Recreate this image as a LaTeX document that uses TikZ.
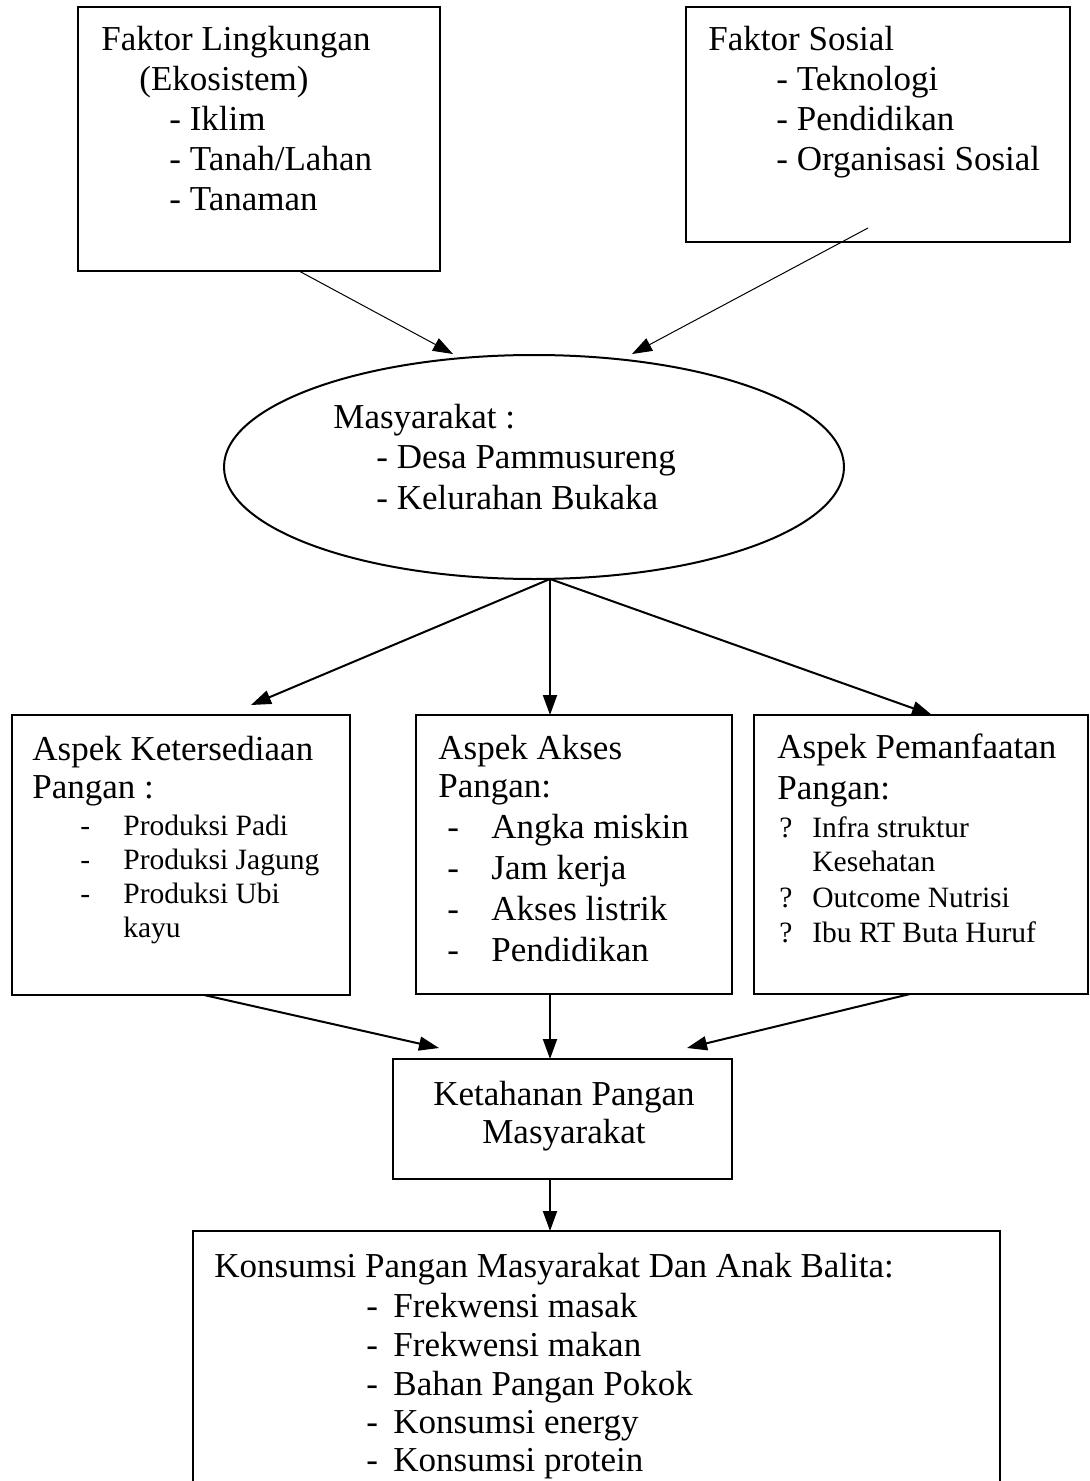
\documentclass[tikz,border=0pt]{standalone}
\usepackage{fontspec}
\setmainfont{Liberation Serif}
\usetikzlibrary{arrows.meta,shapes.geometric,fit}
\begin{document}
\begin{tikzpicture}[x=0.5pt,y=-0.5pt,
  box/.style={draw, line width=1.25pt, inner sep=0pt, outer sep=0pt},
  txt/.style={anchor=base west, inner sep=0pt, font=\fontsize{17.5}{21}\selectfont},
  sm/.style={anchor=base west, inner sep=0pt, font=\fontsize{14.75}{18}\selectfont},
  ctr/.style={anchor=base, inner sep=0pt, font=\fontsize{17.5}{21}\selectfont},
  arr/.style={-{Triangle[length=10pt,width=7pt]}, line width=1pt},
  thinarr/.style={-{Triangle[length=10pt,width=7pt]}, line width=0.5pt}]
\useasboundingbox (0,0) rectangle (1089,1481);

% ---- boxes ----
\node[box, fit={(78,7) (440,271)}] (b1) {};
\node[box, fit={(686,7) (1070,242)}] (b2) {};
\node[draw, ellipse, line width=1pt, minimum width=310pt, minimum height=112pt, inner sep=0pt] (el) at (534,467) {};
\node[box, fit={(12,715) (350,995)}] (b3) {};
\node[box, fit={(416,715) (732,994)}] (b4) {};
\node[box, fit={(754,715) (1088,994)}] (b5) {};
\node[box, fit={(393,1059) (732,1179)}] (b6) {};
\node[box, fit={(193,1231) (1000,1540)}] (b7) {};

% ---- box 1 text ----
\node[txt] (t1a) at (101,51) {Faktor Lingkungan};
\node[txt] (t1b) at (139,91) {(Ekosistem)};
\node[txt] (t1c) at (169,131) {- Iklim};
\node[txt] (t1d) at (169,171) {- Tanah/Lahan};
\node[txt] (t1e) at (169,211) {- Tanaman};

% ---- box 2 text ----
\node[txt] (t2a) at (708,51) {Faktor Sosial};
\node[txt] (t2b) at (776,91) {- Teknologi};
\node[txt] (t2c) at (776,131) {- Pendidikan};
\node[txt] (t2d) at (776,171) {- Organisasi Sosial};

% ---- ellipse text ----
\node[txt] (tea) at (333,428) {Masyarakat :};
\node[txt] (teb) at (376,468) {- Desa Pammusureng};
\node[txt] (tec) at (376,509) {- Kelurahan Bukaka};

% ---- box 3 text ----
\node[txt] (t3a) at (32,760) {Aspek Ketersediaan};
\node[txt] (t3b) at (32,798) {Pangan :};
\node[sm] (t3c1) at (80,835) {-};
\node[sm] (t3c) at (123,835) {Produksi Padi};
\node[sm] (t3d1) at (80,869) {-};
\node[sm] (t3d) at (123,869) {Produksi Jagung};
\node[sm] (t3e1) at (80,903) {-};
\node[sm] (t3e) at (123,903) {Produksi Ubi};
\node[sm] (t3f) at (123,937) {kayu};

% ---- box 4 text ----
\node[txt] (t4a) at (438,759) {Aspek Akses};
\node[txt] (t4b) at (438,797) {Pangan:};
\node[txt] (t4c1) at (447,838) {-};
\node[txt] (t4c) at (491,838) {Angka miskin};
\node[txt] (t4d1) at (447,879) {-};
\node[txt] (t4d) at (491,879) {Jam kerja};
\node[txt] (t4e1) at (447,920) {-};
\node[txt] (t4e) at (491,920) {Akses listrik};
\node[txt] (t4f1) at (447,961) {-};
\node[txt] (t4f) at (491,961) {Pendidikan};

% ---- box 5 text ----
\node[txt] (t5a) at (777,758) {Aspek Pemanfaatan};
\node[txt] (t5b) at (777,799) {Pangan:};
\node[sm] (t5c1) at (779,837) {?};
\node[sm] (t5c) at (812,837) {Infra struktur};
\node[sm] (t5d) at (812,871) {Kesehatan};
\node[sm] (t5e1) at (779,907) {?};
\node[sm] (t5e) at (812,907) {Outcome Nutrisi};
\node[sm] (t5f1) at (779,942) {?};
\node[sm] (t5f) at (812,942) {Ibu RT Buta Huruf};

% ---- box 6 text ----
\node[ctr] (t6a) at (564,1105) {Ketahanan Pangan};
\node[ctr] (t6b) at (564,1143) {Masyarakat};

% ---- box 7 text ----
\node[txt] (t7a) at (214,1277) {Konsumsi Pangan Masyarakat Dan Anak Balita:};
\node[txt] (t7b1) at (366,1317) {-};
\node[txt] (t7b) at (393,1317) {Frekwensi masak};
\node[txt] (t7c1) at (366,1356) {-};
\node[txt] (t7c) at (393,1356) {Frekwensi makan};
\node[txt] (t7d1) at (366,1395) {-};
\node[txt] (t7d) at (393,1395) {Bahan Pangan Pokok};
\node[txt] (t7e1) at (366,1433) {-};
\node[txt] (t7e) at (393,1433) {Konsumsi energy};
\node[txt] (t7f1) at (366,1471) {-};
\node[txt] (t7f) at (393,1471) {Konsumsi protein};

% ---- connector end points ----
\coordinate (b1o) at (299,271);
\coordinate (elin1) at (453,354);
\coordinate (b2o) at (868,228);
\coordinate (elin2) at (632,354);
\coordinate (elo) at (550,579);
\coordinate (b3in) at (251,705);
\coordinate (b4in) at (550,715);
\coordinate (b5in) at (932,715);
\coordinate (b3o) at (204,995);
\coordinate (b4o) at (550,994);
\coordinate (b5o) at (910,994);
\coordinate (b6in1) at (439,1048);
\coordinate (b6in2) at (550,1059);
\coordinate (b6in3) at (687,1048);
\coordinate (b6o) at (550,1179);
\coordinate (b7in) at (550,1231);

% ---- connectors ----
\draw[thinarr] (b1o) -- (elin1);
\draw[thinarr] (b2o) -- (elin2);
\draw[arr] (elo) -- (b3in);
\draw[arr] (elo) -- (b4in);
\draw[arr] (elo) -- (b5in);
\draw[arr] (b3o) -- (b6in1);
\draw[arr] (b4o) -- (b6in2);
\draw[arr] (b5o) -- (b6in3);
\draw[arr] (b6o) -- (b7in);
\end{tikzpicture}
\end{document}
